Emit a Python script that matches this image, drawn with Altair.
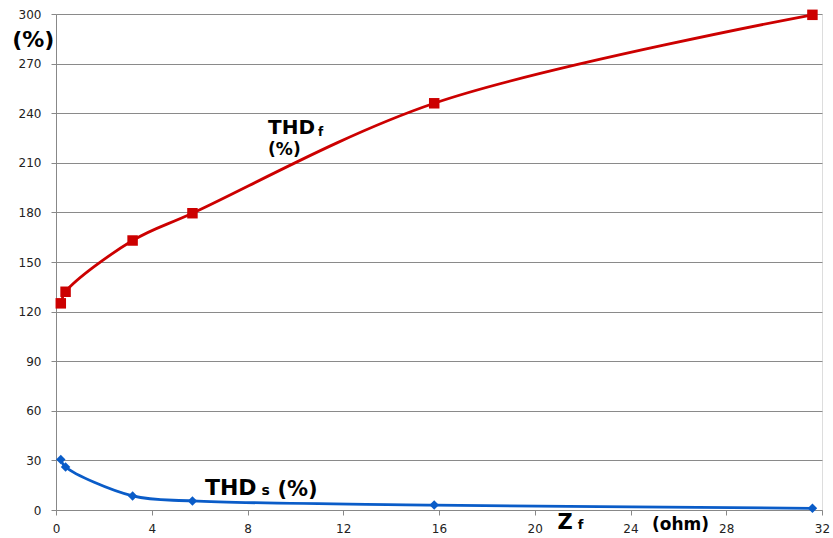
import altair as alt
import pandas as pd

zf = [0.2, 0.4, 3.2, 5.7, 15.8, 31.6]
thd_f = [125, 132, 163, 179.5, 246, 299.5]
thd_s = [30.5, 26, 8.5, 5.5, 3, 1]

x_ticks = [0, 4, 8, 12, 16, 20, 24, 28, 32]
y_ticks = [0, 30, 60, 90, 120, 150, 180, 210, 240, 270, 300]

df_f = pd.DataFrame({"zf": zf, "v": thd_f})
df_s = pd.DataFrame({"zf": zf, "v": thd_s})

# annotation texts
ann = pd.DataFrame([
    {"x": -0.95, "y": 284, "t": "(%)", "size": 22, "align": "center", "base": "middle"},
    {"x": 8.86, "y": 227.5, "t": "THD", "size": 20, "align": "left", "base": "alphabetic"},
    {"x": 10.95, "y": 226.5, "t": "f", "size": 12, "align": "left", "base": "alphabetic"},
    {"x": 8.86, "y": 215.0, "t": "(%)", "size": 17, "align": "left", "base": "alphabetic"},
    {"x": 6.22, "y": 9.1, "t": "THD", "size": 22, "align": "left", "base": "alphabetic"},
    {"x": 8.58, "y": 9.1, "t": "s", "size": 14, "align": "left", "base": "alphabetic"},
    {"x": 9.25, "y": 8.5, "t": "(%)", "size": 21, "align": "left", "base": "alphabetic"},
    {"x": 20.95, "y": -11.5, "t": "Z", "size": 21, "align": "left", "base": "alphabetic"},
    {"x": 21.8, "y": -11.5, "t": "f", "size": 13, "align": "left", "base": "alphabetic"},
    {"x": 24.9, "y": -11.8, "t": "(ohm)", "size": 17, "align": "left", "base": "alphabetic"},
])

xs = alt.Scale(domain=[0, 32], nice=False)
ys = alt.Scale(domain=[0, 300], nice=False)

xax = alt.Axis(values=x_ticks, grid=False, title=None, labelFontSize=12, labelColor="#222",
               labelFont="DejaVu Sans", domainColor="#888", tickColor="#888", tickSize=5,
               labelPadding=8, labelFlush=False)
yax = alt.Axis(values=y_ticks, grid=True, gridColor="#8a8a8a", title=None, labelFontSize=12,
               labelColor="#222", labelFont="DejaVu Sans", domainColor="#888", tickColor="#888",
               tickSize=5, labelPadding=10)

base_f = alt.Chart(df_f)
base_s = alt.Chart(df_s)

line_f = base_f.mark_line(color="#cc0000", strokeWidth=2.8, interpolate="catmull-rom").encode(
    x=alt.X("zf:Q", scale=xs, axis=xax), y=alt.Y("v:Q", scale=ys, axis=yax))
pts_f = base_f.mark_point(shape="square", filled=True, size=110, color="#cc0000", opacity=1).encode(
    x=alt.X("zf:Q", scale=xs), y=alt.Y("v:Q", scale=ys))
line_s = base_s.mark_line(color="#0a5cc8", strokeWidth=2.8, interpolate="catmull-rom").encode(
    x=alt.X("zf:Q", scale=xs), y=alt.Y("v:Q", scale=ys))
pts_s = base_s.mark_point(shape="diamond", filled=True, size=90, color="#0a5cc8", opacity=1).encode(
    x=alt.X("zf:Q", scale=xs), y=alt.Y("v:Q", scale=ys))

texts = []
for _, r in ann.iterrows():
    texts.append(
        alt.Chart(pd.DataFrame([r])).mark_text(
            fontSize=int(r["size"]), fontWeight="bold", font="DejaVu Sans", color="#000",
            align=r["align"], baseline=r["base"], clip=False
        ).encode(x=alt.X("x:Q", scale=xs), y=alt.Y("y:Q", scale=ys), text="t:N")
    )

chart = alt.layer(line_f, pts_f, line_s, pts_s, *texts).properties(
    width=766, height=496,
    autosize=alt.AutoSizeParams(type="none"),
    padding={"left": 56, "top": 14, "right": 11, "bottom": 28},
).configure_view(stroke=None).configure(background="white")

chart.save("out.html", embed_options={"renderer": "svg", "actions": False})
